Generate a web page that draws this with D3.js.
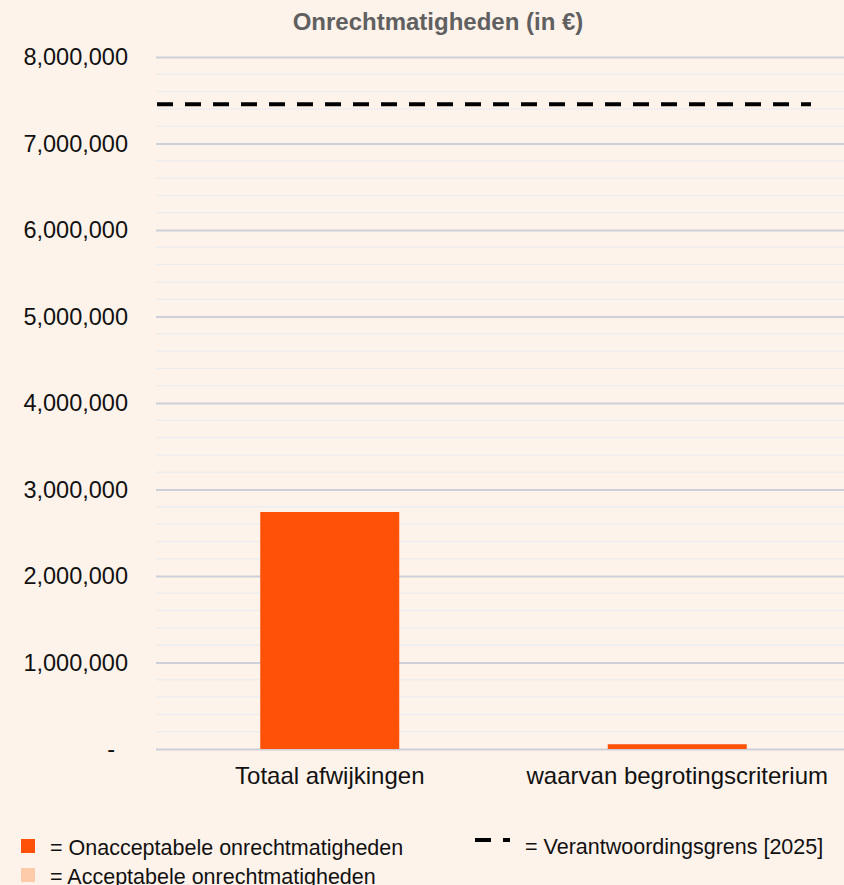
<!DOCTYPE html>
<html>
<head>
<meta charset="utf-8">
<script src="https://cdn.jsdelivr.net/npm/d3@7"></script>
<style>
  html, body { margin: 0; padding: 0; background: #FEF3EB; }
  svg { display: block; font-family: "Liberation Sans", Arial, sans-serif; }
</style>
</head>
<body>
<div id="chart"></div>
<script>
// chart data
const categories = ["Totaal afwijkingen", "waarvan begrotingscriterium"];
const onacceptabel = [2740000, 55000];
const verantwoordingsgrens = 7455000;
const yTicks = [0, 1000000, 2000000, 3000000, 4000000, 5000000, 6000000, 7000000, 8000000];
const minorTicks = d3.range(0, 8000001, 200000);
const legendLeft = ["= Onacceptabele onrechtmatigheden", "= Acceptabele onrechtmatigheden"];
const legendRight = "= Verantwoordingsgrens [2025]";
const title = "Onrechtmatigheden (in €)";

document.addEventListener('DOMContentLoaded', function() {
    const width = 844, height = 885;
    const plot = { left: 156, right: 851, top: 57, bottom: 749 };

    const svg = d3.select("#chart")
        .append("svg")
        .attr("width", width)
        .attr("height", height);

    svg.append("rect")
        .attr("width", width)
        .attr("height", height)
        .attr("fill", "#FEF3EB");

    // Scales
    const x = d3.scaleBand()
        .domain(categories)
        .range([plot.left, plot.right])
        .paddingInner(0.6)
        .paddingOuter(0.3);

    const y = d3.scaleLinear()
        .domain([0, 8000000])
        .range([plot.bottom, plot.top]);

    // Minor gridlines
    svg.append("g")
        .selectAll("line")
        .data(minorTicks.filter(v => v % 1000000 !== 0))
        .enter().append("line")
        .attr("x1", plot.left).attr("x2", width)
        .attr("y1", d => y(d)).attr("y2", d => y(d))
        .attr("stroke", "#EEEDEE")
        .attr("stroke-width", 1.5);

    // Major gridlines + labels via axis
    const yAxis = svg.append("g")
        .attr("transform", `translate(${plot.left},0)`)
        .call(d3.axisLeft(y)
            .tickValues(yTicks)
            .tickSize(-(width - plot.left))
            .tickPadding(28)
            .tickFormat(d => d === 0 ? "-" : d3.format(",")(d)));
    yAxis.select(".domain").remove();
    yAxis.selectAll(".tick line")
        .attr("stroke", "#CDD0D8")
        .attr("stroke-width", 2);
    yAxis.selectAll(".tick text")
        .attr("fill", "#111")
        .style("font-size", "23.5px")
        .attr("font-family", "Liberation Sans, Arial, sans-serif")
        .attr("dx", d => d === 0 ? -13 : 0);

    // Bars
    svg.append("g")
        .selectAll(".bar")
        .data(categories)
        .enter().append("rect")
        .attr("class", "bar")
        .attr("x", d => x(d))
        .attr("y", (d, i) => y(onacceptabel[i]))
        .attr("width", x.bandwidth())
        .attr("height", (d, i) => y(0) - y(onacceptabel[i]))
        .attr("fill", "#FF5208");

    // Threshold line
    svg.append("line")
        .attr("x1", plot.left + 1).attr("x2", 811)
        .attr("y1", y(verantwoordingsgrens)).attr("y2", y(verantwoordingsgrens))
        .attr("stroke", "#000")
        .attr("stroke-width", 4)
        .attr("stroke-dasharray", "16,12");

    // X axis labels
    const xAxis = svg.append("g")
        .attr("transform", `translate(0,${plot.bottom})`)
        .call(d3.axisBottom(x).tickSize(0).tickPadding(18));
    xAxis.select(".domain").remove();
    xAxis.selectAll(".tick text")
        .attr("fill", "#111")
        .attr("font-family", "Liberation Sans, Arial, sans-serif")
        .style("font-size", "24px");

    // Title
    svg.append("text")
        .attr("x", 438)
        .attr("y", 22)
        .attr("dy", "0.35em")
        .attr("text-anchor", "middle")
        .attr("fill", "#606060")
        .attr("font-weight", "bold")
        .style("font-size", "24px")
        .text(title);

    // Legend
    const legendColors = ["#FF5208", "#FDCBAA"];
    const leg = svg.append("g");
    leg.selectAll("rect")
        .data(legendLeft)
        .enter().append("rect")
        .attr("x", 21)
        .attr("y", (d, i) => 839 + i * 29)
        .attr("width", 14)
        .attr("height", 14)
        .attr("fill", (d, i) => legendColors[i]);
    leg.selectAll("text")
        .data(legendLeft)
        .enter().append("text")
        .attr("x", 50)
        .attr("y", (d, i) => 847 + i * 29)
        .attr("dy", "0.35em")
        .attr("fill", "#111")
        .style("font-size", "21.5px")
        .text(d => d);

    leg.append("line")
        .attr("x1", 475).attr("x2", 510)
        .attr("y1", 840).attr("y2", 840)
        .attr("stroke", "#000")
        .attr("stroke-width", 4)
        .attr("stroke-dasharray", "16,12");
    leg.append("text")
        .attr("x", 525)
        .attr("y", 846)
        .attr("dy", "0.35em")
        .attr("fill", "#111")
        .style("font-size", "21.5px")
        .text(legendRight);
});
</script>
</body>
</html>
